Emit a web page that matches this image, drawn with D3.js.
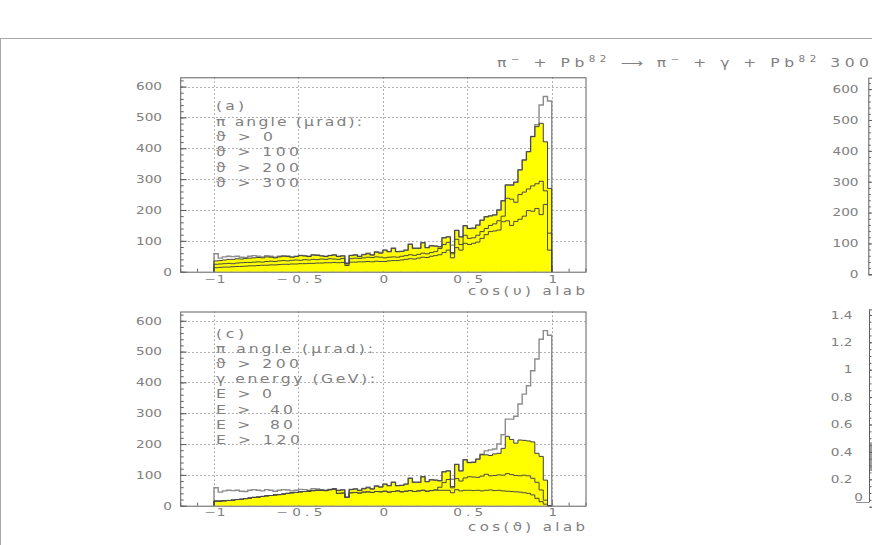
<!DOCTYPE html>
<html><head><meta charset="utf-8">
<script src="https://cdn.jsdelivr.net/npm/d3@7/dist/d3.min.js"></script>
<style>
body{margin:0;background:#fff;overflow:hidden}
svg{display:block}
text{font-family:"DejaVu Sans",sans-serif;fill:#808080;white-space:pre}
.gk{font-family:"Noto Sans","DejaVu Sans",sans-serif}
</style></head><body>
<svg id="chart" width="872" height="545"></svg>
<script>
// ---------------- data ----------------
// 80 bins of cos(theta) from -1 to 1
const binEdges = d3.range(81).map(i => -1 + i * 0.025);

// panel (a): pi angle cuts
const thetaGt0 = [58,44,48,50,49,50,47,46,50,52,50,48,52,50,47,50,52,51,48,50,53,52,50,55,54,52,50,53,55,50,52,28,53,55,50,56,60,55,65,62,
  70,65,76,65,66,70,89,76,76,94,78,84,83,81,110,113,86,134,113,149,140,141,151,167,178,181,184,200,230,281,281,290,330,362,389,438,476,540,568,553];
const thetaGt100 = [35,36,38,40,40,42,41,43,44,45,46,45,48,47,45,48,50,49,47,49,52,51,49,54,53,51,49,52,54,49,51,27,52,54,49,55,58,54,63,60,
  70,65,76,65,66,70,89,76,76,94,78,84,83,81,110,113,62,134,113,149,140,141,151,167,178,181,184,200,230,281,281,290,330,362,389,438,470,481,421,270];
const thetaGt200 = [24,25,26,27,26,28,29,30,30,31,32,31,33,34,33,35,36,35,37,38,37,39,38,40,39,41,40,42,41,40,43,25,42,44,43,45,47,46,48,47,
  45,47,48,47,50,52,55,53,56,60,58,62,65,75,88,95,58,105,88,118,108,110,118,130,140,150,155,165,180,238,235,225,250,258,268,278,285,293,262,125];
const thetaGt300 = [13,14,15,15,16,17,17,18,19,19,20,21,21,22,22,23,24,24,25,25,26,26,27,27,28,28,29,29,30,29,30,20,31,31,32,32,33,32,34,33,
  33,35,36,36,38,40,42,41,44,47,46,50,52,55,62,70,45,78,70,92,88,92,96,108,120,130,132,135,162,165,150,163,170,180,198,196,205,185,218,70];

// panel (c): theta > 200 with gamma energy cuts
const eGt40 = [15,15,16,17,18,20,21,23,25,27,28,30,32,33,35,36,38,40,42,43,45,46,47,49,50,50,49,52,54,49,51,27,52,54,49,55,58,54,63,60,
  70,65,76,65,66,70,89,76,76,94,78,84,83,81,110,113,62,134,113,149,140,141,151,165,165,163,168,170,186,225,215,203,213,212,210,207,170,160,83,0];
const eGt80 = [15,15,16,17,18,20,21,23,25,27,28,30,32,33,35,36,38,40,42,43,45,46,47,49,50,50,49,52,54,40,41,27,42,43,41,44,45,43,46,45,
  47,44,46,48,45,47,49,46,48,50,47,49,51,60,75,85,58,88,80,90,94,93,92,96,102,97,98,100,99,104,101,98,97,99,97,89,76,51,18,0];
const eGt120 = [15,15,16,17,18,20,21,23,25,27,28,30,32,33,35,36,38,40,42,43,45,46,47,49,50,50,49,52,54,40,41,27,42,43,41,44,45,43,46,45,
  47,44,46,48,45,47,49,46,48,50,47,49,51,50,50,50,42,52,48,50,50,49,50,48,50,51,49,50,48,47,46,45,44,42,40,35,24,13,5,0];

// axes / ticks / labels
const xTickValues = [-1, -0.5, 0, 0.5, 1];
const xTickLabels = ["\u22121", "\u22120.5", "0", "0.5", "1"];
const xMinorTicks = d3.range(-12, 13).map(i => i / 10);
const yTickValues = [0, 100, 200, 300, 400, 500, 600];
const yTickLabels = ["0", "100", "200", "300", "400", "500", "600"];
const yMinorTicks = d3.range(0, 640, 20);
const ratioTickValues = [0, 0.2, 0.4, 0.6, 0.8, 1, 1.2, 1.4];
const ratioTickLabels = ["0", "0.2", "0.4", "0.6", "0.8", "1", "1.2", "1.4"];
const ratioMinorTicks = d3.range(0, 29).map(i => i * 0.05);
const ratioBar = [0.26, 0.47];

const legendA = ["(a)", "\u03c0 angle (\u03bcrad):", "\u03d1 > 0", "\u03d1 > 100", "\u03d1 > 200", "\u03d1 > 300"];
const legendC = ["(c)", "\u03c0 angle (\u03bcrad):", "\u03d1 > 200", "\u03b3 energy (GeV):", "E > 0", "E >  40", "E >  80", "E > 120"];
const titleParts = [["\u03c0",""],["\u2212","sup"],[" + Pb",""],["82","sup"],[" \u27f6 \u03c0",""],["\u2212","sup"],[" + \u03b3 + Pb",""],["82","sup"],[" 300",""]];

// -------------- styles / layout --------------
const legendAWidths = [28, 146, 57, 83, 83, 83];
const legendCWidths = [28, 157, 83, 159, 56, 77, 77, 84];
const xLabelWidths = [21, 46, 0, 30, 0];
const SX = 1.3; // the plotting font is wide: stretch glyphs horizontally
const svg = d3.select("#chart");

// wide text helper; width (if given) is the on-screen width
function wideText(parent, x, y, str, size, anchor, width, sx) {
  const s = sx || SX;
  const t = parent.append("text")
    .attr("transform", `translate(${x},${y}) scale(${s},1)`)
    .attr("text-anchor", anchor || "start")
    .style("font-size", size + "px");
  if (width) t.attr("textLength", width / s).attr("lengthAdjust", "spacing");
  if (str !== null) t.text(str);
  return t;
}

// outer box
svg.append("rect").attr("x", 0.5).attr("y", 38.5).attr("width", 900).attr("height", 600)
  .attr("fill", "none").attr("stroke", "#a8a8a8");

// title
const title = wideText(svg, 497, 66.5, null, 12, "start", 372);
let prevSup = false;
titleParts.forEach(([t, k]) => {
  const ts = title.append("tspan").text(t);
  if (k === "sup") { ts.attr("dy", -5).style("font-size", "8px"); prevSup = true; }
  else if (prevSup) { ts.attr("dy", 5); prevSup = false; }
});

function stepPts(v) {
  const p = v.map((d, i) => [binEdges[i], d]);
  p.push([binEdges[v.length], v[v.length - 1]]);
  return p;
}
function closedPts(v) { return [[binEdges[0], 0], ...stepPts(v), [binEdges[v.length], 0]]; }

function legendLine(parent, x, y, str, width) {
  const t = wideText(parent, x, y, null, 12, "start", width);
  // render the script theta with a font that draws it as a curly glyph
  str.split(/(\u03d1)/).forEach(part => {
    if (!part) return;
    const ts = t.append("tspan").text(part);
    if (part === "\u03d1") ts.attr("class", "gk");
  });
}

function drawHistPanel(o) {
  const x = d3.scaleLinear().domain([-1.2, 1.2]).range([o.left, o.right]);
  const y = d3.scaleLinear().domain([0, 630]).range([o.bottom, o.top]);
  const g = svg.append("g");
  // grid
  g.append("g").selectAll("line").data(yTickValues.slice(1)).join("line")
    .attr("x1", o.left).attr("x2", o.right)
    .attr("y1", d => Math.round(y(d)) + 0.5).attr("y2", d => Math.round(y(d)) + 0.5)
    .attr("stroke", "#9a9a9a").attr("stroke-dasharray", "1.5,2.5");
  g.append("g").selectAll("line").data(xTickValues).join("line")
    .attr("x1", d => Math.round(x(d)) + 0.5).attr("x2", d => Math.round(x(d)) + 0.5)
    .attr("y1", o.top).attr("y2", o.bottom)
    .attr("stroke", "#9a9a9a").attr("stroke-dasharray", "1.5,2.5");
  // x ticks (inside)
  const xa = g.append("g").attr("transform", `translate(0,${o.bottom})`)
    .call(d3.axisBottom(x).tickValues(xMinorTicks).tickSize(-3).tickFormat(""));
  xa.select(".domain").remove();
  xa.selectAll("line").attr("stroke", "#606060");
  const xb = g.append("g").attr("transform", `translate(0,${o.bottom})`)
    .call(d3.axisBottom(x).tickValues(xTickValues).tickSize(-6).tickFormat(""));
  xb.select(".domain").remove();
  xb.selectAll("line").attr("stroke", "#606060");
  // histograms
  const area = d3.area().curve(d3.curveStepAfter).x(d => x(d[0])).y0(y(0)).y1(d => y(d[1]));
  const line = d3.line().curve(d3.curveStepAfter).x(d => x(d[0])).y(d => y(d[1]));
  g.append("path").attr("d", area(stepPts(o.fill))).attr("fill", "#ffff00");
  g.append("path").attr("d", line(closedPts(o.outline))).attr("fill", "none")
    .attr("stroke", "#8c8c8c").attr("stroke-width", 1.4);
  g.append("path").attr("d", line(closedPts(o.fill))).attr("fill", "none")
    .attr("stroke", "#404040").attr("stroke-width", 1);
  o.lines.forEach(v => {
    g.append("path").attr("d", line(closedPts(v))).attr("fill", "none")
      .attr("stroke", "#484848").attr("stroke-width", 1);
  });
  // frame
  g.append("rect").attr("x", o.left + 0.5).attr("y", o.top + 0.5)
    .attr("width", o.right - o.left).attr("height", o.bottom - o.top)
    .attr("fill", "none").attr("stroke", "#606060");
  // y ticks inside
  const ya = g.append("g").attr("transform", `translate(${o.left + 0.5},0)`)
    .call(d3.axisLeft(y).tickValues(yMinorTicks).tickSize(-3).tickFormat(""));
  ya.select(".domain").remove(); ya.selectAll("line").attr("stroke", "#606060");
  const yb = g.append("g").attr("transform", `translate(${o.left + 0.5},0)`)
    .call(d3.axisLeft(y).tickValues(yTickValues).tickSize(-6).tickFormat(""));
  yb.select(".domain").remove(); yb.selectAll("line").attr("stroke", "#606060");
  // y labels
  yTickValues.forEach((d, i) => {
    wideText(g, d === 0 ? o.zeroRight : o.labelRight, y(d) + 3.8, yTickLabels[i], 10.5, "end");
  });
  // x labels
  xTickValues.forEach((d, i) => {
    wideText(g, x(d) + 1, o.xLabelBase, xTickLabels[i], 10.5, "middle", xLabelWidths[i] || null);
  });
  // axis title
  wideText(g, 468, o.titleBase, o.axisTitle, 11.5, "start", 117);
  // legend
  o.legend.forEach((s, i) => legendLine(g, 216, o.legendBase[i], s, o.legendWidths[i]));
}

drawHistPanel({
  left: 180.2, right: 585.5, top: 77.3, bottom: 271.7,
  labelRight: 162, zeroRight: 172, xLabelBase: 282.5, titleBase: 295,
  axisTitle: "cos(\u03c5) alab",
  fill: thetaGt100, outline: thetaGt0, lines: [thetaGt200, thetaGt300],
  legend: legendA, legendWidths: legendAWidths,
  legendBase: [110, 126, 141, 156, 171.5, 186.5]
});
drawHistPanel({
  left: 180.2, right: 585.5, top: 311.5, bottom: 505.7,
  labelRight: 162, zeroRight: 172, xLabelBase: 515.5, titleBase: 530.5,
  axisTitle: "cos(\u03d1) alab",
  fill: eGt40, outline: thetaGt0, lines: [eGt80, eGt120],
  legend: legendC, legendWidths: legendCWidths,
  legendBase: [338, 353, 368, 383, 398, 413.5, 428.5, 444]
});

// ---- right column (cut off at the page edge) ----
(function () {
  const left = 868.3, top = 77.7, bottom = 274.3;
  const y = d3.scaleLinear().domain([0, 637]).range([bottom, top]);
  const g = svg.append("g");
  g.append("rect").attr("x", left + 0.5).attr("y", top + 0.5).attr("width", 300).attr("height", bottom - top)
    .attr("fill", "none").attr("stroke", "#606060");
  const ya = g.append("g").attr("transform", `translate(${left + 0.5},0)`)
    .call(d3.axisLeft(y).tickValues(yMinorTicks).tickSize(-2).tickFormat(""));
  ya.select(".domain").remove(); ya.selectAll("line").attr("stroke", "#606060");
  const yb = g.append("g").attr("transform", `translate(${left + 0.5},0)`)
    .call(d3.axisLeft(y).tickValues(yTickValues).tickSize(-4).tickFormat(""));
  yb.select(".domain").remove(); yb.selectAll("line").attr("stroke", "#606060");
  yTickValues.forEach((d, i) => wideText(g, 858.5, y(d) + 3.8, yTickLabels[i], 10.5, "end"));
})();
(function () {
  const left = 869, top = 309.4, bottom = 506.7;
  const y = d3.scaleLinear().domain([0, 1.44]).range([bottom, top]);
  const g = svg.append("g");
  g.append("rect").attr("x", left).attr("y", y(ratioBar[1])).attr("width", 4)
    .attr("height", y(ratioBar[0]) - y(ratioBar[1])).attr("fill", "#a0a0a0");
  g.append("line").attr("x1", left + 0.5).attr("x2", left + 0.5).attr("y1", top).attr("y2", 502)
    .attr("stroke", "#606060");
  g.append("line").attr("x1", left + 0.5).attr("x2", 880).attr("y1", top + 0.5).attr("y2", top + 0.5)
    .attr("stroke", "#606060");
  g.append("line").attr("x1", 856).attr("x2", left + 0.5).attr("y1", 502.5).attr("y2", 502.5)
    .attr("stroke", "#909090");
  const ya = g.append("g").attr("transform", `translate(${left + 0.5},0)`)
    .call(d3.axisLeft(y).tickValues(ratioMinorTicks).tickSize(-2).tickFormat(""));
  ya.select(".domain").remove(); ya.selectAll("line").attr("stroke", "#606060");
  const yb = g.append("g").attr("transform", `translate(${left + 0.5},0)`)
    .call(d3.axisLeft(y).tickValues(ratioTickValues).tickSize(-4).tickFormat(""));
  yb.select(".domain").remove(); yb.selectAll("line").attr("stroke", "#606060");
  ratioTickValues.forEach((d, i) =>
    wideText(g, d === 0 ? 863 : 852.5, (d === 0 ? 497 : y(d)) + 3.8, ratioTickLabels[i], 10.5, "end"));
})();
</script>
</body></html>
